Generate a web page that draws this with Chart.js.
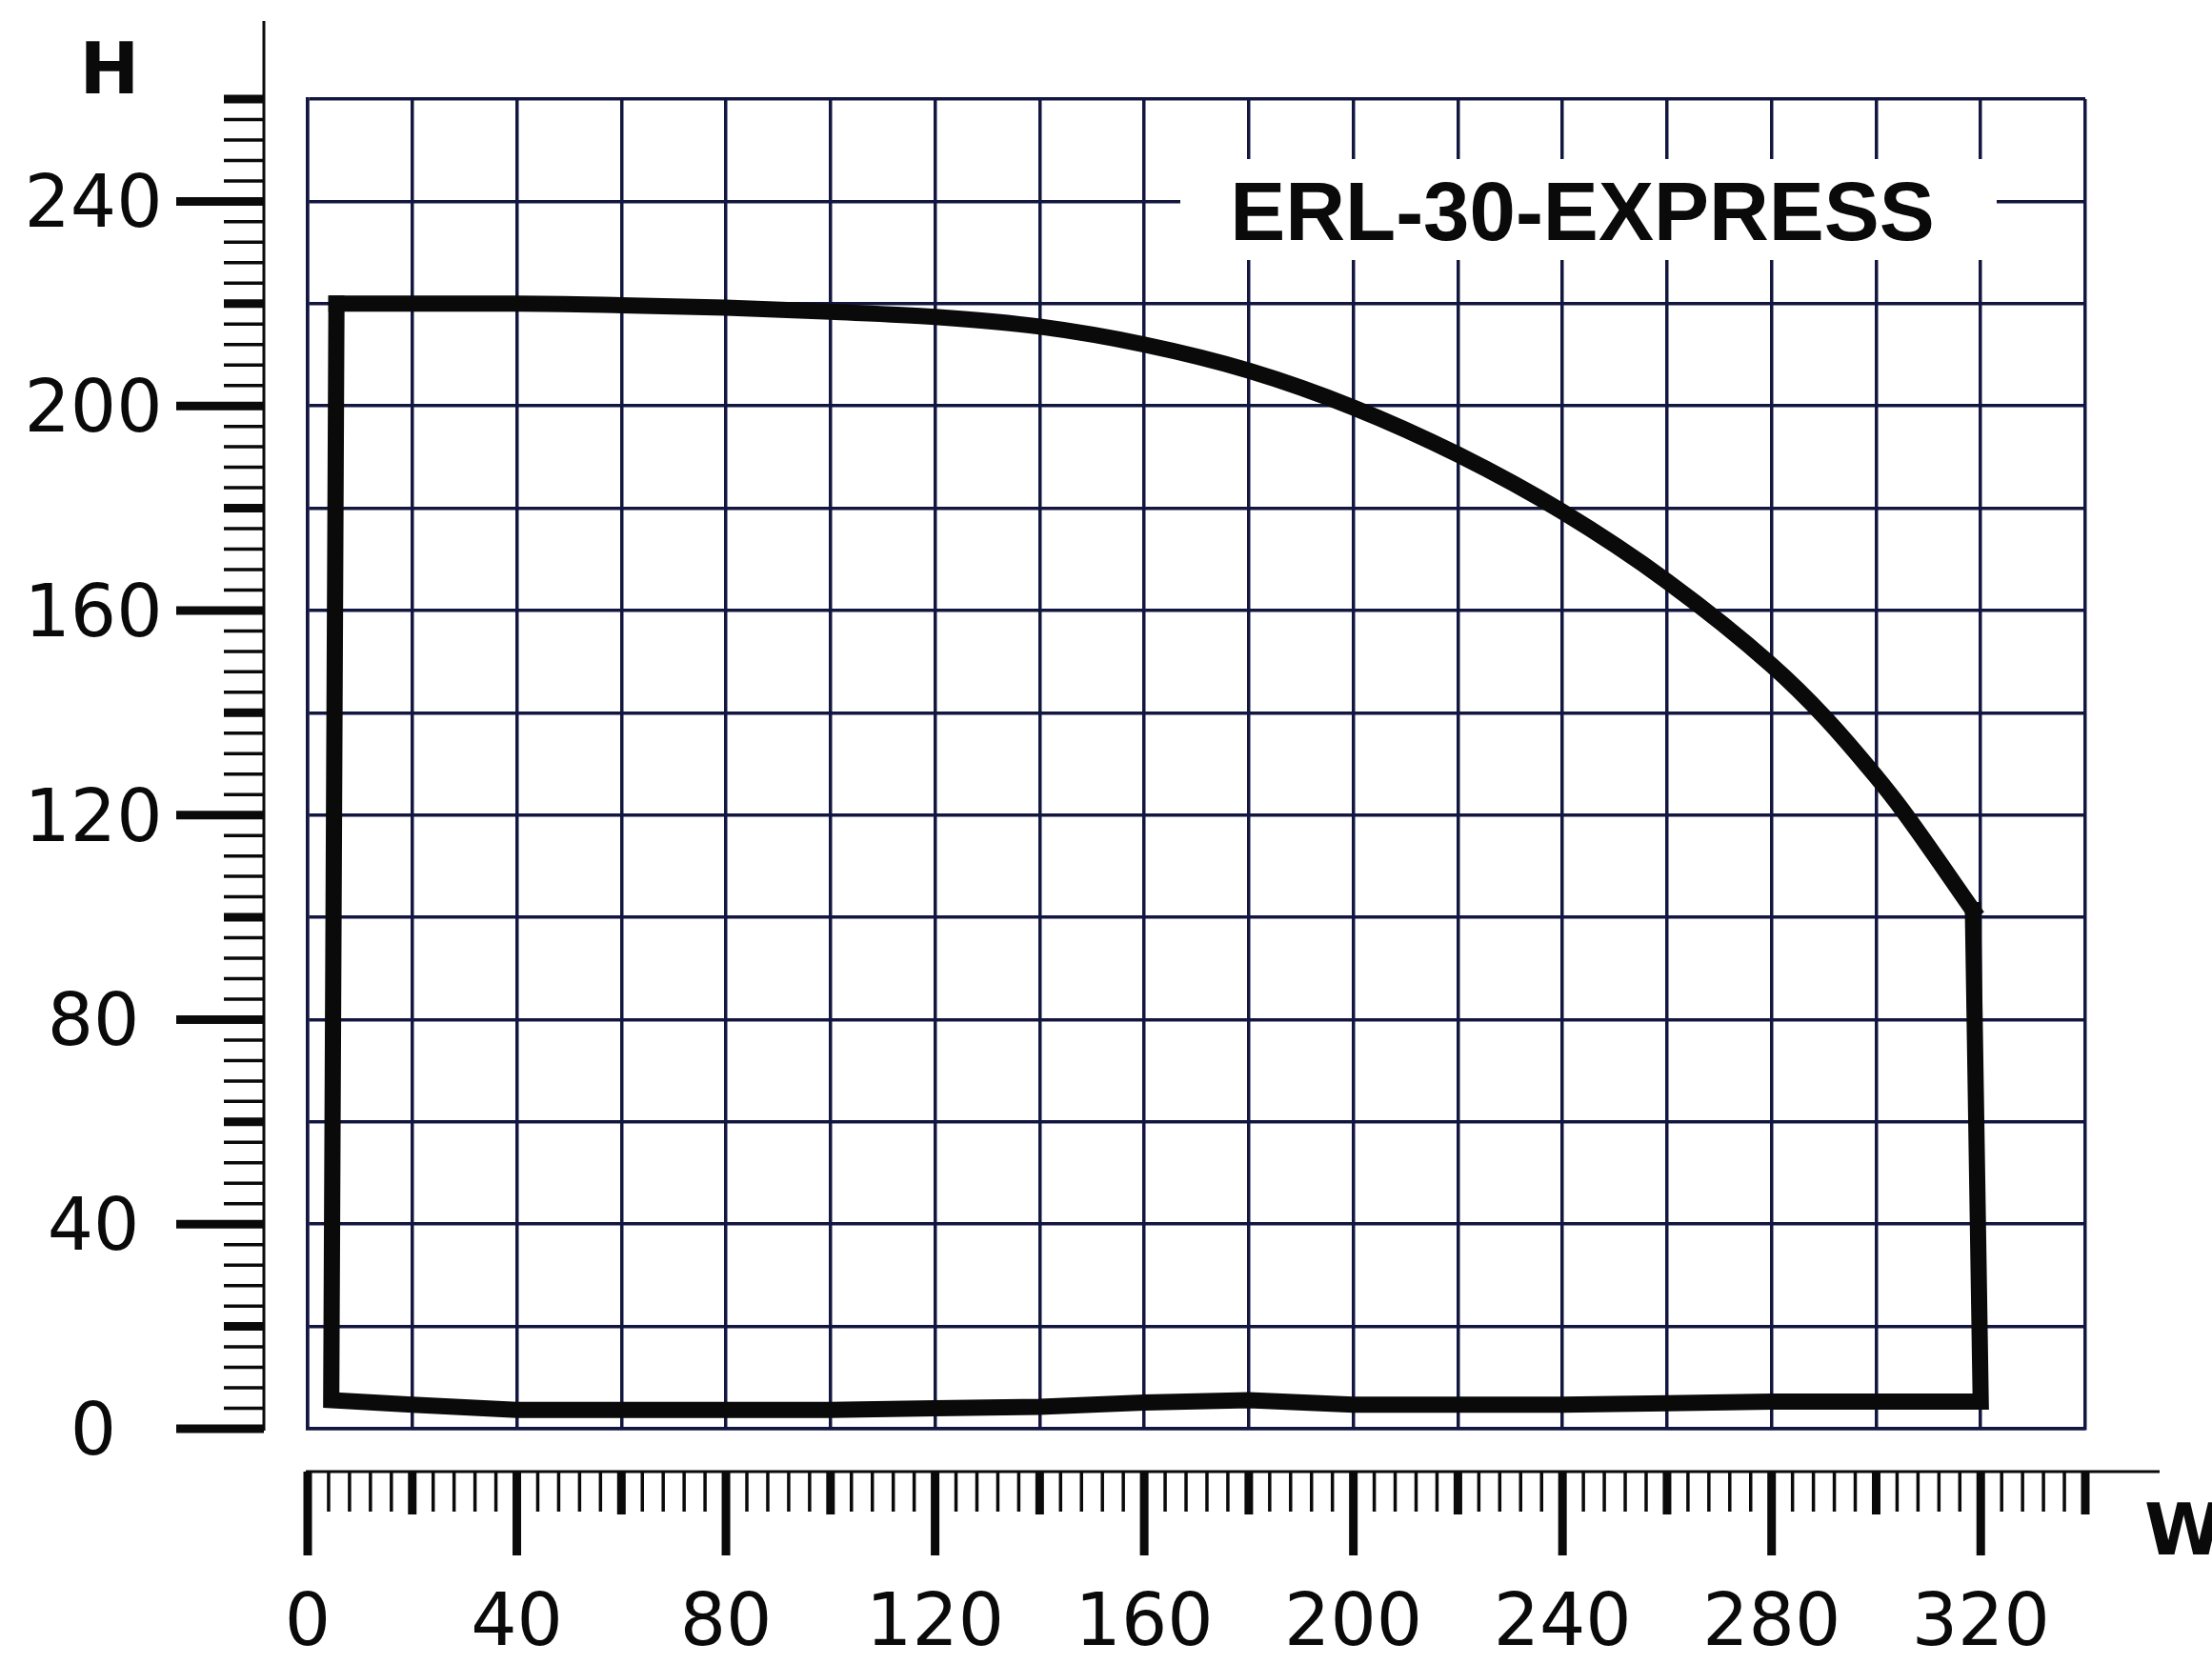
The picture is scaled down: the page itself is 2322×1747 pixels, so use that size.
<!DOCTYPE html>
<html>
<head>
<meta charset="utf-8">
<script src="https://cdn.jsdelivr.net/npm/chart.js@4.4.1/dist/chart.umd.min.js"></script>
<style>
  html, body { margin: 0; padding: 0; background: #ffffff; }
  canvas { display: block; }
</style>
</head>
<body>
<canvas id="myChart" width="2322" height="1747"></canvas>
<script>
// curved top of the working range (W, H)
var curveW = [5.5, 20, 40, 60, 80, 100, 120, 140, 160, 180, 200, 220, 240, 260, 280, 290, 300, 305, 318.5];
var curveH = [220, 220, 220, 219.7, 219.2, 218.4, 217.4, 215.5, 212, 206.9, 199.7, 190.5, 179.3, 165.7, 149.3, 139.3, 127.5, 121, 101.4];

// straight edges: right side, bottom, left side
var edgeW = [318.5, 320, 300, 280, 260, 240, 220, 200, 180, 160, 140, 120, 100, 80, 60, 40, 20, 4.5, 5.5];
var edgeH = [101.4, 5.3, 5.3, 5.3, 5.0, 4.7, 4.7, 4.7, 5.6, 5.1, 4.3, 4.0, 3.7, 3.7, 3.7, 3.7, 4.7, 5.6, 220];

var xTicks = [0, 40, 80, 120, 160, 200, 240, 280, 320];
var yTicks = [0, 40, 80, 120, 160, 200, 240];

var xMax = 340;
var yMax = 260;
var modelName = 'ERL-30-EXPRESS';

var gridColor = '#131740';
var ink = '#0a0a0a';

function toPoints(xs, ys) {
  var pts = [];
  for (var i = 0; i < xs.length; i++) {
    pts.push({x: xs[i], y: ys[i]});
  }
  return pts;
}

// draws the two rulers below / left of the grid, the axis letters and the model name
var rulerPlugin = {
  id: 'rulers',
  afterDraw: function(chart) {
    var ctx = chart.ctx;
    var xs = chart.scales.x;
    var ys = chart.scales.y;
    var area = chart.chartArea;
    ctx.save();
    ctx.strokeStyle = ink;
    ctx.fillStyle = ink;
    ctx.lineCap = 'butt';

    // title box (white, cuts the grid)
    ctx.fillStyle = '#ffffff';
    ctx.fillRect(1239, 167, 857, 106);
    ctx.fillStyle = ink;
    ctx.font = 'bold 87px "Liberation Sans", Arial, sans-serif';
    ctx.textAlign = 'center';
    ctx.textBaseline = 'alphabetic';
    ctx.fillText(modelName, 1661, 252);

    // vertical ruler (H)
    var axX = area.left - 46;
    var y0 = ys.getPixelForValue(0);
    ctx.lineWidth = 3;
    ctx.beginPath();
    ctx.moveTo(axX, ys.getPixelForValue(yMax) - 82);
    ctx.lineTo(axX, y0 + 2);
    ctx.stroke();
    for (var v = 0; v <= yMax; v += 4) {
      var py = ys.getPixelForValue(v);
      var len = 42, w = 3.5;
      if (v % 40 === 0 && v <= 240) { len = 92; w = 9; }
      else if (v % 20 === 0) { w = 9; }
      ctx.lineWidth = w;
      ctx.beginPath();
      ctx.moveTo(axX - len, py);
      ctx.lineTo(axX, py);
      ctx.stroke();
    }
    ctx.font = '76px "DejaVu Sans", Verdana, sans-serif';
    ctx.textAlign = 'center';
    for (var i = 0; i < yTicks.length; i++) {
      ctx.fillText(String(yTicks[i]), 98, ys.getPixelForValue(yTicks[i]) + 27);
    }

    // horizontal ruler (W)
    var axY = area.bottom + 45;
    ctx.lineWidth = 3;
    ctx.beginPath();
    ctx.moveTo(xs.getPixelForValue(0) - 2, axY);
    ctx.lineTo(xs.getPixelForValue(xMax) + 78, axY);
    ctx.stroke();
    for (var u = 0; u <= xMax; u += 4) {
      var px = xs.getPixelForValue(u);
      var l2 = 42, w2 = 3.5;
      if (u % 40 === 0 && u <= 320) { l2 = 88; w2 = 9; }
      else if (u % 20 === 0) { l2 = 45; w2 = 9; }
      ctx.lineWidth = w2;
      ctx.beginPath();
      ctx.moveTo(px, axY);
      ctx.lineTo(px, axY + l2);
      ctx.stroke();
    }
    for (var j = 0; j < xTicks.length; j++) {
      ctx.fillText(String(xTicks[j]), xs.getPixelForValue(xTicks[j]), 1727);
    }

    // axis letters
    ctx.font = 'bold 75px "DejaVu Sans", Verdana, sans-serif';
    ctx.textAlign = 'center';
    ctx.fillText('H', 115, 98);
    ctx.textAlign = 'left';
    ctx.fillText('W', 2251, 1632);
    ctx.restore();
  }
};

var ctx = document.getElementById('myChart');

var chart = new Chart(ctx, {
  type: 'scatter',
  data: {
    datasets: [
      {
        label: 'curve',
        data: toPoints(curveW, curveH),
        showLine: true,
        borderColor: ink,
        borderWidth: 17,
        borderCapStyle: 'square',
        borderJoinStyle: 'round',
        cubicInterpolationMode: 'monotone',
        pointRadius: 0,
        fill: false
      },
      {
        label: 'edges',
        data: toPoints(edgeW, edgeH),
        showLine: true,
        borderColor: ink,
        borderWidth: 17,
        borderCapStyle: 'square',
        borderJoinStyle: 'miter',
        tension: 0,
        pointRadius: 0,
        fill: false
      }
    ]
  },
  options: {
    responsive: false,
    devicePixelRatio: 1,
    animation: false,
    layout: {
      padding: {left: 323, right: 133, top: 104, bottom: 247}
    },
    plugins: {
      legend: {display: false},
      tooltip: {enabled: false}
    },
    scales: {
      x: {
        type: 'linear',
        min: 0,
        max: xMax,
        ticks: {display: false, stepSize: 20, autoSkip: false},
        grid: {color: gridColor, lineWidth: 3.5, drawTicks: false},
        border: {display: true, color: gridColor, width: 3.5}
      },
      y: {
        type: 'linear',
        min: 0,
        max: yMax,
        ticks: {display: false, stepSize: 20, autoSkip: false},
        grid: {color: gridColor, lineWidth: 3.5, drawTicks: false},
        border: {display: true, color: gridColor, width: 3.5}
      }
    }
  },
  plugins: [rulerPlugin]
});
</script>
</body>
</html>
